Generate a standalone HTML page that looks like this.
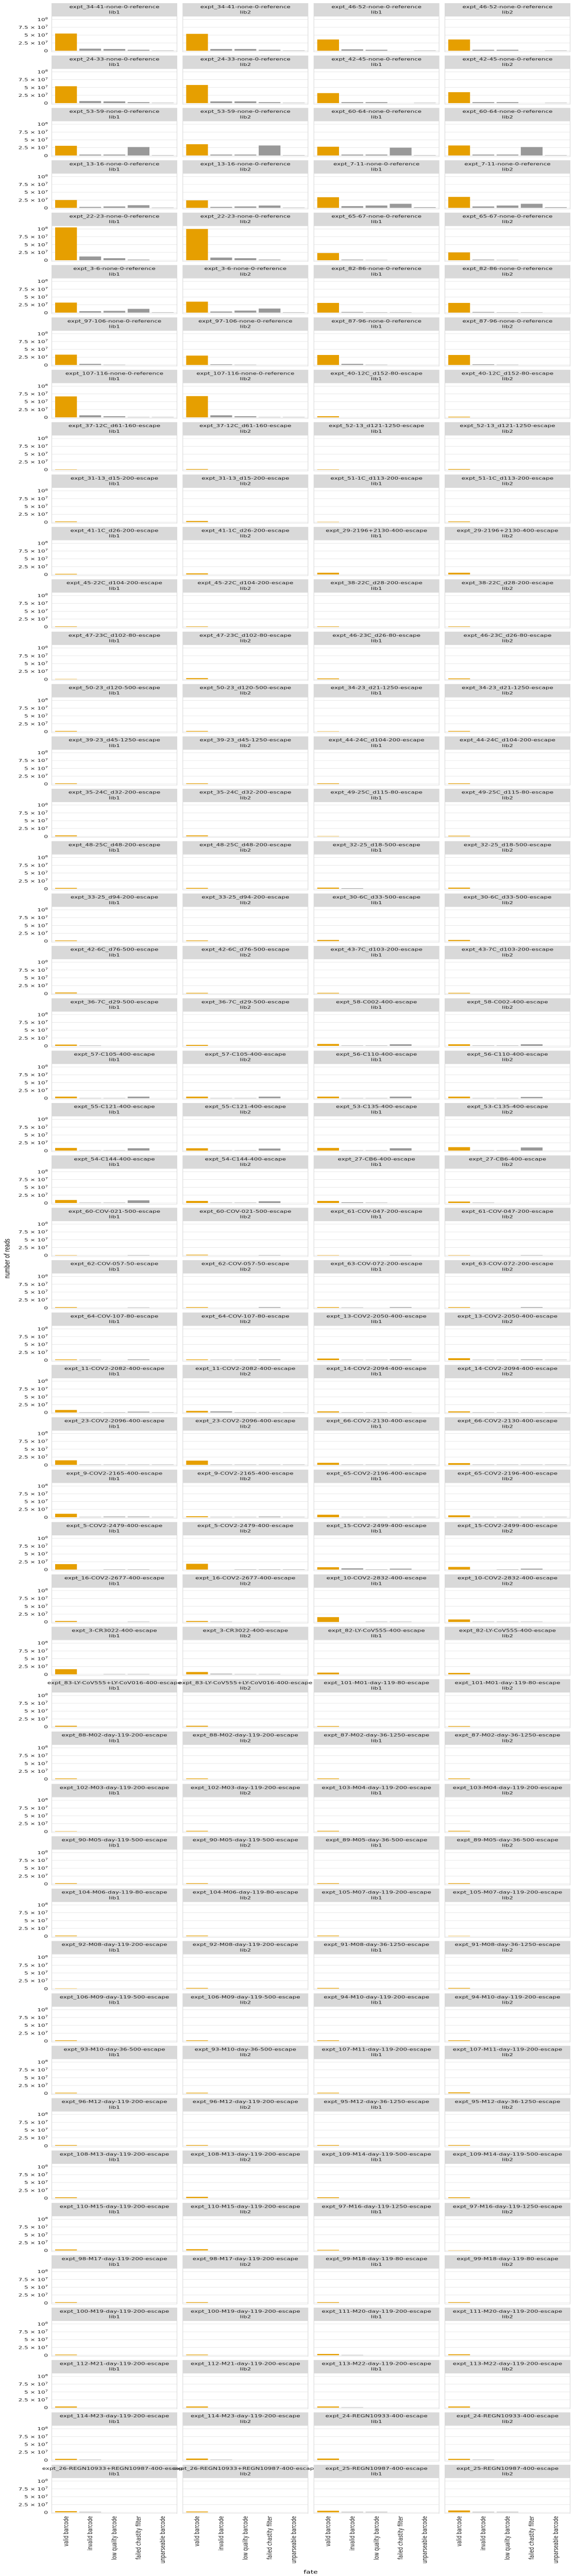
<!DOCTYPE html>
<html><head><meta charset="utf-8"><title>number of reads by fate</title>
<style>
html,body{margin:0;padding:0;background:#fff;width:100%;height:100%;overflow:hidden;}
#chart{display:block;position:fixed;left:0;top:0;width:100vw;height:100vh;font-family:"DejaVu Sans","Liberation Sans",sans-serif;}
</style></head>
<body>
<svg id="chart" viewBox="0 0 1116 7475" preserveAspectRatio="none" xmlns="http://www.w3.org/2000/svg"></svg>
<script>
// ---- data ----
const experiments = [
"expt_34-41-none-0-reference","expt_46-52-none-0-reference",
"expt_24-33-none-0-reference","expt_42-45-none-0-reference",
"expt_53-59-none-0-reference","expt_60-64-none-0-reference",
"expt_13-16-none-0-reference","expt_7-11-none-0-reference",
"expt_22-23-none-0-reference","expt_65-67-none-0-reference",
"expt_3-6-none-0-reference","expt_82-86-none-0-reference",
"expt_97-106-none-0-reference","expt_87-96-none-0-reference",
"expt_107-116-none-0-reference","expt_40-12C_d152-80-escape",
"expt_37-12C_d61-160-escape","expt_52-13_d121-1250-escape",
"expt_31-13_d15-200-escape","expt_51-1C_d113-200-escape",
"expt_41-1C_d26-200-escape","expt_29-2196+2130-400-escape",
"expt_45-22C_d104-200-escape","expt_38-22C_d28-200-escape",
"expt_47-23C_d102-80-escape","expt_46-23C_d26-80-escape",
"expt_50-23_d120-500-escape","expt_34-23_d21-1250-escape",
"expt_39-23_d45-1250-escape","expt_44-24C_d104-200-escape",
"expt_35-24C_d32-200-escape","expt_49-25C_d115-80-escape",
"expt_48-25C_d48-200-escape","expt_32-25_d18-500-escape",
"expt_33-25_d94-200-escape","expt_30-6C_d33-500-escape",
"expt_42-6C_d76-500-escape","expt_43-7C_d103-200-escape",
"expt_36-7C_d29-500-escape","expt_58-C002-400-escape",
"expt_57-C105-400-escape","expt_56-C110-400-escape",
"expt_55-C121-400-escape","expt_53-C135-400-escape",
"expt_54-C144-400-escape","expt_27-CB6-400-escape",
"expt_60-COV-021-500-escape","expt_61-COV-047-200-escape",
"expt_62-COV-057-50-escape","expt_63-COV-072-200-escape",
"expt_64-COV-107-80-escape","expt_13-COV2-2050-400-escape",
"expt_11-COV2-2082-400-escape","expt_14-COV2-2094-400-escape",
"expt_23-COV2-2096-400-escape","expt_66-COV2-2130-400-escape",
"expt_9-COV2-2165-400-escape","expt_65-COV2-2196-400-escape",
"expt_5-COV2-2479-400-escape","expt_15-COV2-2499-400-escape",
"expt_16-COV2-2677-400-escape","expt_10-COV2-2832-400-escape",
"expt_3-CR3022-400-escape","expt_82-LY-CoV555-400-escape",
"expt_83-LY-CoV555+LY-CoV016-400-escape","expt_101-M01-day-119-80-escape",
"expt_88-M02-day-119-200-escape","expt_87-M02-day-36-1250-escape",
"expt_102-M03-day-119-200-escape","expt_103-M04-day-119-200-escape",
"expt_90-M05-day-119-500-escape","expt_89-M05-day-36-500-escape",
"expt_104-M06-day-119-80-escape","expt_105-M07-day-119-200-escape",
"expt_92-M08-day-119-200-escape","expt_91-M08-day-36-1250-escape",
"expt_106-M09-day-119-500-escape","expt_94-M10-day-119-200-escape",
"expt_93-M10-day-36-500-escape","expt_107-M11-day-119-200-escape",
"expt_96-M12-day-119-200-escape","expt_95-M12-day-36-1250-escape",
"expt_108-M13-day-119-200-escape","expt_109-M14-day-119-500-escape",
"expt_110-M15-day-119-200-escape","expt_97-M16-day-119-1250-escape",
"expt_98-M17-day-119-200-escape","expt_99-M18-day-119-80-escape",
"expt_100-M19-day-119-200-escape","expt_111-M20-day-119-200-escape",
"expt_112-M21-day-119-200-escape","expt_113-M22-day-119-200-escape",
"expt_114-M23-day-119-200-escape","expt_24-REGN10933-400-escape",
"expt_26-REGN10933+REGN10987-400-escape","expt_25-REGN10987-400-escape"
];
const libraries = ["lib1","lib2"];
const fates = ["valid barcode","invalid barcode","low quality barcode","failed chastity filter","unparseable barcode"];
const yTickValues = [0, 2.5e7, 5e7, 7.5e7, 1e8];
const yTickMantissa = ["0","2.5 \u00d7 10","5 \u00d7 10","7.5 \u00d7 10","10"];
const yTickExponent = ["","7","7","7","8"];
// read counts in units of 1e7, one entry per panel (row-major: exptA lib1, exptA lib2, exptB lib1, exptB lib2)
const readsE7 = [
[5.5,0.65,0.55,0.3,0.1],[5.4,0.55,0.55,0.3,0.1],[3.6,0.45,0.3,0,0.1],[3.6,0.3,0.3,0,0.1],
[5.4,0.65,0.55,0.3,0.1],[5.8,0.55,0.55,0.3,0.1],[3.2,0.3,0.3,0,0.1],[3.5,0.3,0.3,0,0.1],
[3.1,0.3,0.3,2.7,0.1],[3.6,0.3,0.3,3.2,0.1],[2.8,0.3,0.3,2.5,0.1],[3.2,0.3,0.3,2.7,0.1],
[2.5,0.3,0.45,0.85,0.1],[2.4,0.3,0.45,0.75,0.1],[3.4,0.55,0.75,1.3,0.2],[3.5,0.45,0.75,1.3,0.2],
[10.5,1.2,0.65,0.2,0],[10.0,0.85,0.65,0.2,0],[2.3,0.2,0.1,0,0],[2.5,0.2,0.1,0,0],
[3.2,0.45,0.55,1.2,0.1],[3.5,0.35,0.65,1.3,0.1],[3.1,0.2,0.1,0.1,0],[3.1,0.2,0.1,0.1,0],
[3.3,0.35,0.1,0,0],[3.0,0.2,0.1,0,0],[3.2,0.35,0.1,0,0],[3.2,0.2,0.1,0,0],
[6.7,0.65,0.35,0.1,0.1],[6.8,0.65,0.35,0.1,0.1],[0.35,0,0,0,0],[0.2,0,0,0,0],
[0.1,0,0,0,0],[0.2,0,0,0,0],[0.1,0,0,0,0],[0.2,0,0,0,0],
[0.2,0,0,0,0],[0.35,0,0,0,0],[0.1,0,0,0,0],[0.2,0,0,0,0],
[0.2,0,0,0,0],[0.35,0,0,0,0],[0.55,0,0,0,0],[0.55,0,0,0,0],
[0.15,0,0,0,0],[0.15,0,0,0,0],[0.15,0,0,0,0],[0.15,0,0,0,0],
[0.1,0,0,0,0],[0.35,0,0,0,0],[0.25,0,0,0,0],[0.25,0,0,0,0],
[0.2,0,0,0,0],[0.2,0,0,0,0],[0.1,0,0,0,0],[0.2,0,0,0,0],
[0.2,0,0,0,0],[0.2,0,0,0,0],[0.2,0,0,0,0],[0.2,0,0,0,0],
[0.3,0,0,0,0],[0.3,0,0,0,0],[0.1,0,0,0,0],[0.2,0,0,0,0],
[0.25,0,0,0,0],[0.25,0,0,0,0],[0.35,0.15,0,0,0],[0.35,0,0,0,0],
[0.2,0,0,0,0],[0.2,0,0,0,0],[0.35,0,0,0,0],[0.35,0,0,0,0],
[0.3,0,0,0,0],[0.2,0,0,0,0],[0.2,0,0,0,0],[0.2,0,0,0,0],
[0.4,0.1,0,0,0],[0.3,0,0,0,0],[0.6,0.1,0.1,0.5,0],[0.5,0.1,0.1,0.5,0],
[0.5,0.05,0.05,0.5,0],[0.5,0.05,0.05,0.5,0],[0.5,0.05,0.05,0.5,0],[0.5,0.05,0.05,0.4,0],
[0.85,0.1,0.1,0.75,0],[0.75,0.1,0.1,0.65,0],[0.85,0.1,0.1,0.75,0],[1.1,0.1,0.1,1.0,0],
[0.95,0.1,0.1,0.85,0],[0.65,0.1,0.1,0.55,0],[0.65,0.2,0.1,0,0],[0.45,0.1,0,0,0],
[0.1,0,0,0.1,0],[0.2,0,0,0.1,0],[0.1,0,0,0.1,0],[0.1,0,0,0.1,0],
[0.2,0,0,0.1,0],[0.2,0,0,0.2,0],[0.2,0.1,0,0.2,0],[0.2,0,0,0.2,0],
[0.2,0.1,0,0.2,0],[0.2,0.1,0.1,0.2,0],[0.5,0.1,0.1,0.2,0],[0.6,0.1,0.1,0.2,0.1],
[0.8,0.1,0.1,0.25,0.1],[0.5,0.35,0.1,0.1,0.1],[0.35,0.1,0.1,0.1,0],[0.35,0.1,0.1,0.1,0.1],
[1.45,0.1,0.1,0.1,0.1],[1.35,0.1,0.1,0.1,0.1],[0.65,0.1,0.1,0.1,0.1],[0.55,0.1,0.1,0.1,0.1],
[1.1,0.1,0.2,0.2,0.1],[0.3,0.1,0.1,0.2,0.1],[0.8,0.1,0.1,0.1,0.1],[0.6,0.1,0.1,0.1,0.1],
[1.75,0,0.1,0.1,0],[1.85,0,0.1,0.1,0.1],[0.75,0.4,0.1,0.3,0],[0.85,0,0.1,0.3,0],
[0.3,0,0,0.1,0],[0.3,0.1,0,0.1,0],[1.55,0,0.1,0.1,0],[0.8,0.1,0.1,0.1,0],
[1.65,0,0.1,0.1,0],[0.75,0.2,0.1,0.1,0],[0.55,0,0,0,0],[0.45,0,0,0,0],
[0.3,0,0,0,0],[0.3,0,0,0,0],[0.2,0,0,0,0],[0.2,0,0,0,0],
[0.2,0,0,0,0],[0.2,0,0,0,0],[0.2,0,0,0,0],[0.2,0,0,0,0],
[0.1,0,0,0,0],[0.2,0,0,0,0],[0.2,0,0,0,0],[0.2,0,0,0,0],
[0.2,0,0,0,0],[0.2,0,0,0,0],[0.2,0,0,0,0],[0.2,0,0,0,0],
[0.2,0,0,0,0],[0.2,0,0,0,0],[0.2,0,0,0,0],[0.1,0,0,0,0],
[0.05,0,0,0,0],[0.2,0,0,0,0],[0.2,0,0,0,0],[0.2,0,0,0,0],
[0.2,0,0,0,0],[0.2,0,0,0,0],[0.2,0,0,0,0],[0.2,0,0,0,0],
[0.2,0,0,0,0],[0.2,0,0,0,0],[0.2,0,0,0,0],[0.3,0,0,0,0],
[0.2,0,0,0,0],[0.2,0,0,0,0],[0.2,0,0,0,0],[0.2,0,0,0,0],
[0.25,0,0,0,0],[0.4,0,0,0,0],[0.25,0,0,0,0],[0.25,0,0,0,0],
[0.3,0,0,0,0],[0.4,0,0,0,0],[0.2,0,0,0,0],[0.05,0,0,0,0],
[0.2,0,0,0,0],[0.2,0,0,0,0],[0.2,0,0,0,0],[0.2,0,0,0,0],
[0.2,0,0,0,0],[0.2,0,0,0,0],[0.4,0.1,0,0,0],[0.3,0,0,0,0],
[0.35,0,0,0,0],[0.35,0,0,0,0],[0.35,0.1,0,0,0],[0.35,0,0,0,0],
[0.35,0.1,0,0,0],[0.45,0.1,0,0,0],[0.45,0,0,0,0],[0.35,0.1,0,0,0],
[0.37,0.15,0,0,0],[0.26,0,0,0,0],[0.5,0.15,0.15,0,0],[0.6,0.15,0.15,0,0]
];

// ---- layout ----
const NS = "http://www.w3.org/2000/svg";
const svg = document.getElementById("chart");
const colLefts = [100, 354.3, 608.7, 863];
const panelW = 244;
const rowPitch = 151.98, firstTop = 9.2;
const stripH = 37.7, plotTop = 37.7, plotBottom = 142, zeroOff = 138, fullOff = 47.3;
const yMax = 1e8;
function rowTop(r){ return firstTop + r*rowPitch; }
function yScale(top, v){ return top + zeroOff - (v/yMax)*(zeroOff-fullOff); }
const slot = panelW/5.2;
function xCenter(left, i){ return left + (i+0.6)*slot; }
function mk(tag, attrs, parent){
  const el = document.createElementNS(NS, tag);
  for (const k in attrs) el.setAttribute(k, attrs[k]);
  (parent||svg).appendChild(el);
  return el;
}

const nRows = experiments.length/2;
for (let r=0; r<nRows; r++){
  const top = rowTop(r);
  for (let c=0; c<4; c++){
    const left = colLefts[c];
    const expt = experiments[2*r + (c>>1)];
    const lib = libraries[c%2];
    const vals = readsE7[r*4+c];
    const g = mk("g", {});
    
    
    const strip = mk("rect", {x:left, y:top, width:panelW, height:stripH, fill:"#d9d9d9"}, g);
    
    
    const t1 = mk("text", {x:left+panelW/2, y:top+14.5, "text-anchor":"middle", "font-size":"12", fill:"#1a1a1a"}, g);
    t1.textContent = expt;
    
    
    const t2 = mk("text", {x:left+panelW/2, y:top+30.5, "text-anchor":"middle", "font-size":"12", fill:"#1a1a1a"}, g);
    t2.textContent = lib;
    
    
    const bg = mk("rect", {x:left+0.5, y:top+plotTop+0.5, width:panelW-1, height:plotBottom-plotTop-1, fill:"#fff", stroke:"#d6d6d6", "stroke-width":"1"}, g);
    
    
    for (let k=0; k<yTickValues.length; k++){
      const gy = yScale(top, yTickValues[k]);
      const gl = mk("line", {x1:left+1, x2:left+panelW-1, y1:gy, y2:gy, stroke:"#e0e0e0", "stroke-width":"1.1"}, g);
      
      
    }
    for (let i=0; i<fates.length; i++){
      const v = vals[i]*1e7;
      if (v <= 0) continue;
      const y0 = yScale(top, 0), y1 = yScale(top, v);
      const bar = mk("rect", {x:xCenter(left,i)-0.45*slot, y:y1, width:0.9*slot, height:Math.max(0.8, y0-y1), fill: i===0 ? "#e69f00" : "#999999"}, g);
      
      
    }
  }
  for (let k=0; k<yTickValues.length; k++){
    const gy = yScale(top, yTickValues[k]);
    const tl = mk("text", {x:93, y:gy+4.5, "text-anchor":"end", "font-size":"12", fill:"#1a1a1a"});
    
    
    const s1 = mk("tspan", {}, tl); s1.textContent = yTickMantissa[k];
    if (yTickExponent[k]){
      const s2 = mk("tspan", {dy:"-5", "font-size":"8.5"}, tl); s2.textContent = yTickExponent[k];
    }
  }
}

const lastBottom = rowTop(nRows-1) + plotBottom;
for (let c=0; c<4; c++){
  for (let i=0; i<fates.length; i++){
    const x = xCenter(colLefts[c], i), y = lastBottom + 7;
    const xl = mk("text", {x:x, y:y, transform:"rotate(-90 "+x+" "+y+")", "text-anchor":"end", "dominant-baseline":"central", "font-size":"13", fill:"#1a1a1a"});
    xl.textContent = fates[i];
    
    
  }
}
const xt = mk("text", {x:603, y:7468, "text-anchor":"middle", "font-size":"14", fill:"#000"});
xt.textContent = "fate";


const yt = mk("text", {x:14, y:3652, transform:"rotate(-90 14 3652)", "text-anchor":"middle", "dominant-baseline":"central", "font-size":"14", fill:"#000"});
yt.textContent = "number of reads";


</script>
</body></html>
